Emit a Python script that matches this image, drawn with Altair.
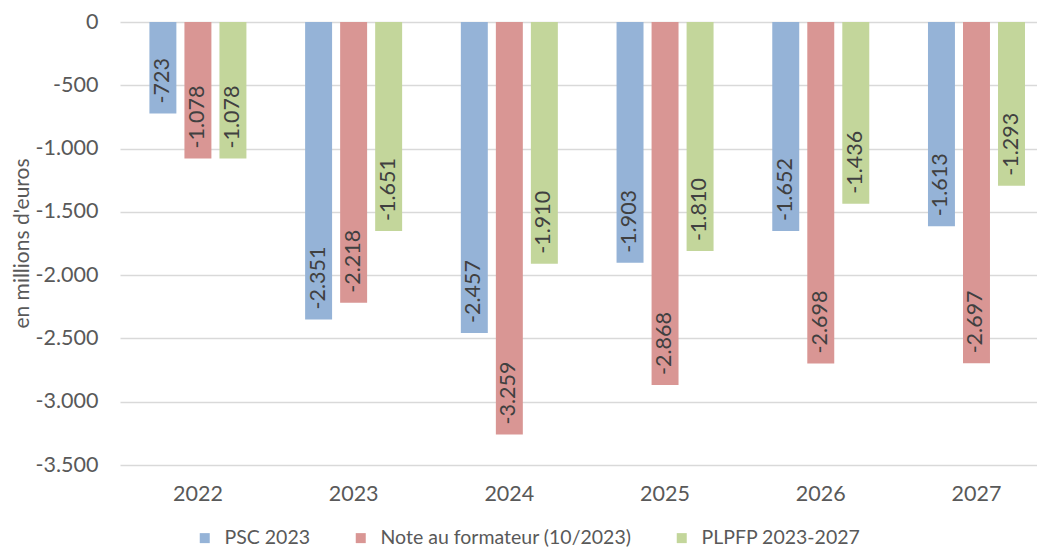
import altair as alt
import pandas as pd

years = ["2022", "2023", "2024", "2025", "2026", "2027"]
series_names = ["PSC 2023", "Note au formateur (10/2023)", "PLPFP 2023-2027"]
psc_2023 = [-723, -2351, -2457, -1903, -1652, -1613]
note_formateur = [-1078, -2218, -3259, -2868, -2698, -2697]
plpfp = [-1078, -1651, -1910, -1810, -1436, -1293]
colors = ["#95B3D7", "#D99694", "#C3D69B"]
y_ticks = [0, -500, -1000, -1500, -2000, -2500, -3000, -3500]

rows = []
for name, vals in zip(series_names, [psc_2023, note_formateur, plpfp]):
    for yr, v in zip(years, vals):
        rows.append({"year": yr, "series": name, "value": v})
df = pd.DataFrame(rows)

FONT = "Lato"
FS = 21.5

x_enc = alt.X(
    "year:N",
    sort=years,
    title=None,
    scale=alt.Scale(paddingInner=0.377, paddingOuter=0.133, align=0.71),
    axis=alt.Axis(labelAngle=0, ticks=False, domain=False, labelPadding=18,
                  labelFontSize=FS, labelColor="#595959", labelFont=FONT),
)
xoff = alt.XOffset("series:N", sort=series_names,
                   scale=alt.Scale(paddingInner=0.23, paddingOuter=0))
y_enc = alt.Y(
    "value:Q",
    scale=alt.Scale(domain=[-3500, 0], nice=False),
    title="en millions d'euros",
    axis=alt.Axis(values=y_ticks, format=",.0f", ticks=False, domain=False,
                  labelPadding=22, labelFontSize=FS, labelColor="#595959",
                  labelFont=FONT, gridColor="#D9D9D9", gridWidth=1.3,
                  titleFont=FONT, titleFontSize=21, titleFontWeight="normal",
                  titleColor="#595959", titleX=-98, titleY=221,
                  titleAngle=270, titleAlign="center", titleBaseline="middle"),
)

bars = alt.Chart(df).mark_bar().encode(
    x=x_enc,
    xOffset=xoff,
    y=y_enc,
    color=alt.Color(
        "series:N",
        sort=series_names,
        scale=alt.Scale(domain=series_names, range=colors),
        legend=alt.Legend(
            title=None, orient="none", direction="horizontal",
            legendX=75, legendY=506, symbolType="square", symbolSize=100,
            symbolStrokeWidth=0, labelFontSize=19.5, labelColor="#595959",
            labelFont=FONT, columnPadding=40, labelOffset=10, padding=0,
            labelLimit=0,
        ),
    ),
)

labels = alt.Chart(df).mark_text(
    angle=270, align="left", baseline="middle", dx=10,
    fontSize=FS, font=FONT, color="#404040",
).encode(
    x=alt.X("year:N", sort=years),
    xOffset=alt.XOffset("series:N", sort=series_names),
    y=alt.Y("value:Q"),
    text=alt.Text("value:Q", format=",.0f"),
)

chart = (
    alt.layer(bars, labels)
    .properties(
        width=917, height=443,
        autosize=alt.AutoSizeParams(type="none"),
        padding={"left": 112, "top": 14, "right": 0, "bottom": 82},
    )
    .configure(
        locale=alt.Locale(number=alt.NumberLocale(
            decimal=",", thousands=".", grouping=[3], currency=["", " €"], minus="-")),
    )
    .configure_view(stroke=None)
)

chart.save("out.html", embed_options={"renderer": "svg", "actions": False})
